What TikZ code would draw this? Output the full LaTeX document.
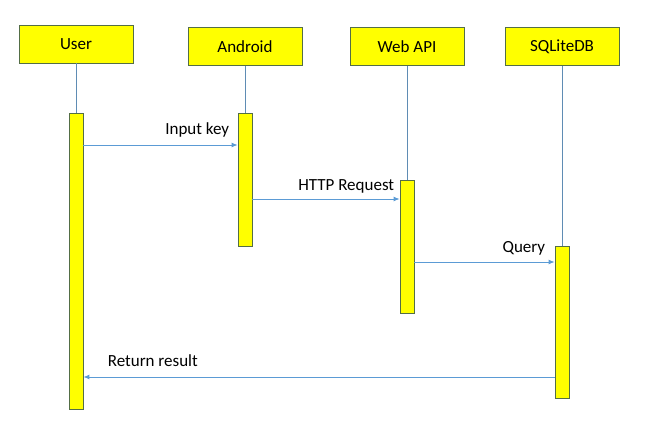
\documentclass[tikz,border=0pt]{standalone}
\usepackage{fontspec}
\setmainfont{Carlito}
\usepackage{tikz}
\usetikzlibrary{arrows.meta}
\definecolor{Head}{RGB}{255,255,0}
\definecolor{Edge}{RGB}{84,110,70}
\definecolor{Life}{RGB}{95,140,180}
\definecolor{Msg}{RGB}{91,155,213}

\begin{document}
\begin{tikzpicture}[x=1pt,y=-1pt,
  font=\fontsize{17}{20}\selectfont,
  actor/.style={draw=Edge,line width=0.8pt,fill=Head,minimum width=114pt,minimum height=38pt,inner sep=0pt},
  bar/.style={draw=Edge,line width=0.8pt,fill=Head,minimum width=14pt,inner sep=0pt},
  life/.style={draw=Life,line width=0.8pt},
  msg/.style={draw=Msg,line width=0.9pt,-{Latex[length=6pt,width=5pt]}},
  lbl/.style={inner sep=0pt,text=black}]
\useasboundingbox (0,0) rectangle (645,442);
% heads
\node[actor] (user) at (76,44) {User};
\node[actor] (android) at (245,46.5) {Android};
\node[actor] (webapi) at (407,46.5) {Web API};
\node[actor] (sqlite) at (562,46.5) {SQLiteDB};

% activation bars
\node[bar,minimum height=296pt] (ubar) at (76,261) {};
\node[bar,minimum height=133pt] (abar) at (245,179.5) {};
\node[bar,minimum height=133pt] (wbar) at (407,246.5) {};
\node[bar,minimum height=152pt] (sbar) at (562,322) {};

% lifelines
\draw[life] (user.south) -- (ubar.north);
\draw[life] (android.south) -- (abar.north);
\draw[life] (webapi.south) -- (wbar.north);
\draw[life] (sqlite.south) -- (sbar.north);

% messages
\coordinate (m1) at (0,145);
\coordinate (m2) at (0,199);
\coordinate (m3) at (0,262);
\coordinate (m4) at (0,377);
\draw[msg] (ubar.east |- m1) -- (abar.west |- m1)
  node[lbl,anchor=base east,xshift=-8pt,yshift=11pt] {Input key};
\draw[msg] (abar.east |- m2) -- (wbar.west |- m2)
  node[lbl,anchor=base east,xshift=-5pt,yshift=8.5pt] {HTTP Request};
\draw[msg] (wbar.east |- m3) -- (sbar.west |- m3)
  node[lbl,anchor=base east,xshift=-9pt,yshift=10pt] {Query};
\draw[msg] (sbar.west |- m4) -- (ubar.east |- m4)
  node[lbl,anchor=base west,xshift=24pt,yshift=11pt] {Return result};
\end{tikzpicture}
\end{document}
